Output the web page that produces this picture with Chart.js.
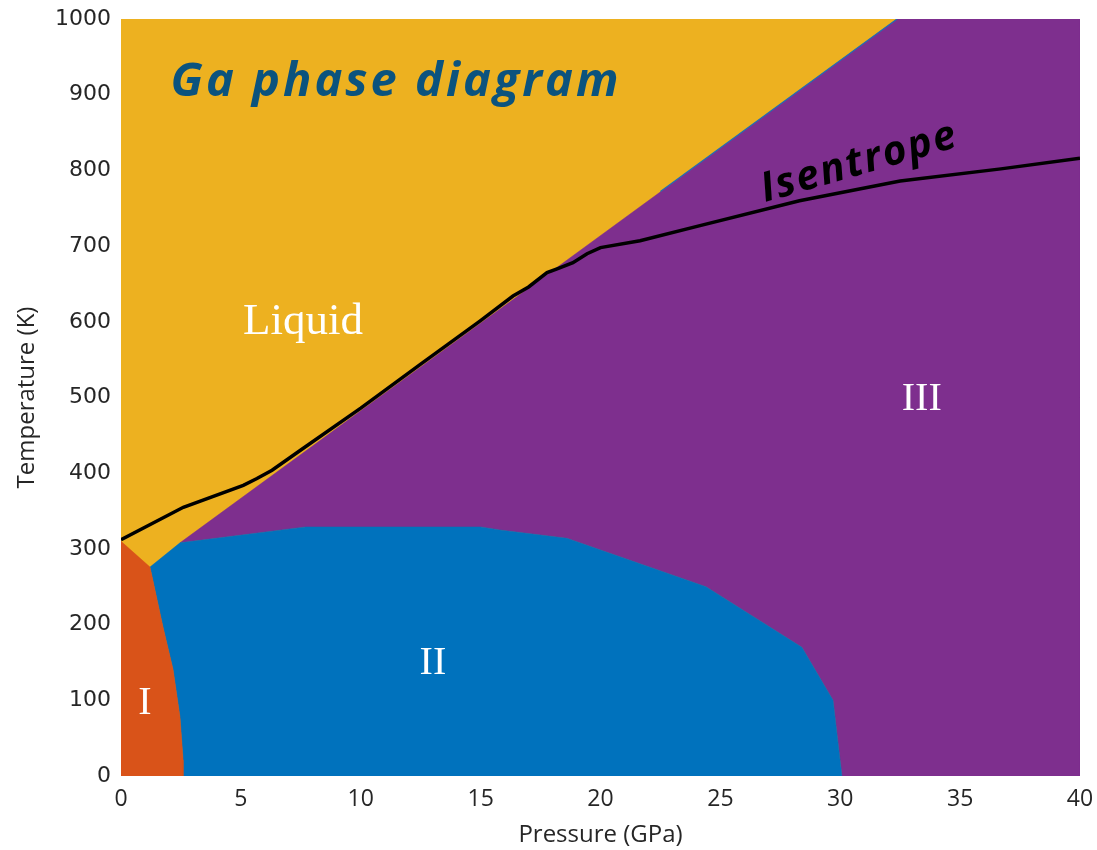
<!DOCTYPE html>
<html>
<head>
<meta charset="utf-8">
<script src="https://cdn.jsdelivr.net/npm/chart.js@4/dist/chart.umd.min.js"></script>
<style>
  html, body { margin: 0; padding: 0; background: #ffffff; }
  #wrap { width: 1097px; height: 850px; position: relative; }
</style>
</head>
<body>
<div id="wrap"><canvas id="c" width="1097" height="850"></canvas></div>
<script>
// ---- Data (Pressure GPa, Temperature K) ----
const xTicks = [0, 5, 10, 15, 20, 25, 30, 35, 40];
const yTicks = [0, 100, 200, 300, 400, 500, 600, 700, 800, 900, 1000];

// Phase I / liquid boundary and I / II boundary (from top-left going down)
const boundaryI_P = [0, 1.21, 1.75, 2.17, 2.46, 2.59, 2.59];
const boundaryI_T = [310, 276, 197, 141, 78, 21, 0];

// II / liquid boundary (triple point I-II-L to triple point II-III-L)
const boundaryIIL_P = [1.21, 2.46];
const boundaryIIL_T = [276, 308];

// II / III boundary
const boundaryIIIII_P = [2.46, 7.7, 15.0, 15.8, 18.6, 24.4, 28.4, 29.7, 30.07];
const boundaryIIIII_T = [308, 329, 329, 325, 314, 250, 170, 100, 0];

// Melting line (liquid / III)
const meltP = [2.46, 32.37];
const meltT = [308, 1000];

// Thin blue edge seen along the upper part of the melting line
const edgeP = [22.5, 32.37];
const edgeT = [772, 1000];

// Isentrope
const isenP = [0, 2.6, 5.1, 5.67, 6.3, 7.47, 10.0, 12.5, 14.97, 16.35, 17.0, 17.77, 18.19, 18.85, 19.44, 20.0, 21.65, 24.15, 28.3, 32.5, 36.7, 40];
const isenT = [312, 355, 384, 393, 404, 430, 486, 544, 601, 634, 646, 665, 670, 678, 690, 698, 707, 727, 760, 786, 802, 816];

// Region labels
const regionLabels = ['Liquid', 'III', 'II', 'I'];
const regionLabelP = [7.59, 33.4, 13.01, 1.0];
const regionLabelT = [600, 497, 149, 96];

const xMin = 0, xMax = 40, yMin = 0, yMax = 1000;

// ---- Build polygons from boundary arrays ----
function pts(P, T) { return P.map((p, i) => ({ x: p, y: T[i] })); }
const liquidPoly = [{x: xMin, y: yMin}, {x: xMin, y: yMax}, {x: xMax, y: yMax}, {x: xMax, y: yMin}, {x: xMin, y: yMin}];
const iiiPoly = [].concat(
  pts(meltP, meltT),
  [{x: xMax, y: yMax}, {x: xMax, y: yMin}],
  pts(boundaryIIIII_P, boundaryIIIII_T).reverse()
);
const iiPoly = [].concat(
  pts(boundaryIIL_P, boundaryIIL_T),
  pts(boundaryIIIII_P, boundaryIIIII_T).slice(1),
  pts(boundaryI_P, boundaryI_T).slice(1).reverse()
);
const iPoly = [{x: xMin, y: yMin}].concat(pts(boundaryI_P, boundaryI_T));

const colLiquid = '#EDB120', colIII = '#7E2F8E', colII = '#0072BD', colI = '#D95319';

function poly(data, color, order) {
  return { data, fill: 'shape', backgroundColor: color, borderColor: color, borderWidth: 0.5,
           pointRadius: 0, tension: 0, showLine: true, order };
}

const labelPlugin = {
  id: 'labels',
  afterDatasetsDraw(chart) {
    const ctx = chart.ctx, xs = chart.scales.x, ys = chart.scales.y;
    ctx.save();
    ctx.textAlign = 'center';
    ctx.textBaseline = 'middle';
    ctx.fillStyle = '#ffffff';
    regionLabels.forEach((t, i) => {
      ctx.font = (i === 0 ? '45px' : '40px') + ' "Liberation Serif", "DejaVu Serif", serif';
      ctx.fillText(t, xs.getPixelForValue(regionLabelP[i]), ys.getPixelForValue(regionLabelT[i]));
    });
    // Title
    ctx.fillStyle = '#0B537E';
    ctx.font = 'italic bold 47px "Open Sans", "DejaVu Sans", sans-serif';
    ctx.letterSpacing = '3px';
    ctx.fillText('Ga phase diagram', xs.getPixelForValue(11.47), ys.getPixelForValue(916));
    // Isentrope label
    ctx.translate(xs.getPixelForValue(30.8), ys.getPixelForValue(810));
    ctx.rotate(-16 * Math.PI / 180);
    ctx.fillStyle = '#000000';
    ctx.font = 'italic bold 41px "Open Sans", "DejaVu Sans", sans-serif';
    ctx.letterSpacing = '2px';
    ctx.fillText('Isentrope', 0, 0);
    ctx.restore();
  }
};

new Chart(document.getElementById('c'), {
  type: 'scatter',
  data: {
    datasets: [
      poly(liquidPoly, colLiquid, 5),
      poly(iiiPoly, colIII, 4),
      poly(iiPoly, colII, 3),
      poly(iPoly, colI, 2),
      { data: pts(edgeP, edgeT), showLine: true, fill: false, borderColor: '#1f6fb5', borderWidth: 1.2,
        pointRadius: 0, tension: 0, order: 1 },
      { data: pts(isenP, isenT), showLine: true, fill: false, borderColor: '#000000', borderWidth: 3.5,
        pointRadius: 0, tension: 0, order: 0 }
    ]
  },
  options: {
    responsive: false,
    animation: false,
    layout: { padding: { left: 0, top: 19, right: 17, bottom: 0 } },
    plugins: { legend: { display: false }, tooltip: { enabled: false } },
    scales: {
      x: {
        type: 'linear', min: xMin, max: xMax,
        afterBuildTicks: (s) => { s.ticks = xTicks.map(v => ({ value: v })); },
        grid: { display: false, drawTicks: false },
        border: { display: false },
        ticks: { color: '#262626', font: { family: '"Open Sans", sans-serif', size: 23 }, padding: 10, maxRotation: 0, autoSkip: false,
                 callback: (v) => String(v) },
        title: { display: true, text: 'Pressure (GPa)', color: '#262626', font: { family: '"Open Sans", sans-serif', size: 24 }, padding: { top: -6, bottom: 0 } },
        afterFit: (s) => { s.height = 74; s.paddingLeft = 0; s.paddingRight = 0; }
      },
      y: {
        type: 'linear', min: yMin, max: yMax,
        afterBuildTicks: (s) => { s.ticks = yTicks.map(v => ({ value: v })); },
        grid: { display: false, drawTicks: false },
        border: { display: false },
        ticks: { color: '#262626', font: { family: '"DejaVu Sans", sans-serif', size: 22 }, padding: 10, autoSkip: false,
                 callback: (v) => String(v) },
        title: { display: true, text: 'Temperature (K)', color: '#262626', font: { family: '"Open Sans", sans-serif', size: 24 }, padding: { top: 13, bottom: 0 } },
        afterFit: (s) => { s.width = 121; s.paddingTop = 0; s.paddingBottom = 0; }
      }
    }
  },
  plugins: [labelPlugin]
});
</script>
</body>
</html>
